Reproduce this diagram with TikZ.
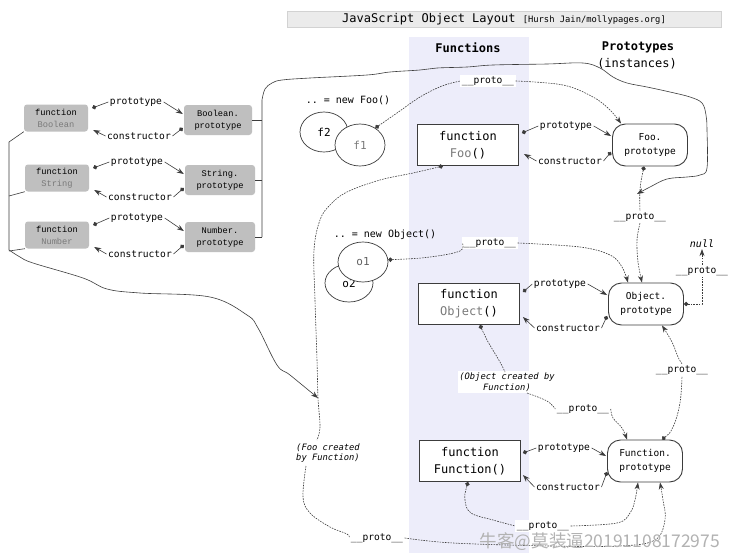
\documentclass[tikz,border=0pt]{standalone}
\usepackage{fontspec}
\setmonofont{DejaVu Sans Mono}
\newfontfamily\boxfont{Liberation Mono}
\newfontfamily\cjkfont{Noto Sans CJK SC}
\usetikzlibrary{arrows.meta,calc,shapes.geometric}
\definecolor{lav}{HTML}{EDEDFA}
\definecolor{boxgray}{HTML}{BFBFBF}
\definecolor{txtgray}{HTML}{7A7A7A}
\definecolor{linegray}{HTML}{3C3C3C}
\tikzset{
  lbl/.style={font=\ttfamily\fontsize{9.6}{10}\selectfont, inner sep=1.5pt, fill=white},
  itl/.style={font=\ttfamily\itshape\fontsize{8.8}{10.5}\selectfont, inner sep=1.5pt, fill=white},
  gbox/.style={rounded corners=3pt, fill=boxgray, inner sep=0pt, minimum width=64pt, minimum height=27pt, align=center, font=\boxfont\fontsize{8.7}{12}\selectfont},
  mbox/.style={draw=linegray, line width=0.9pt, fill=white, inner sep=0pt, minimum width=101pt, minimum height=41pt, align=center, font=\ttfamily\fontsize{12}{17}\selectfont},
  pbox/.style={draw=linegray, line width=0.9pt, fill=white, rounded corners=13pt, inner sep=0pt, minimum width=75pt, minimum height=42pt, align=center, font=\ttfamily\fontsize{9.5}{14}\selectfont},
  ell/.style={ellipse, draw=linegray, line width=0.7pt, fill=white, inner sep=0pt, font=\ttfamily\fontsize{11}{11}\selectfont},
  hdr/.style={font=\ttfamily\bfseries\fontsize{12}{12}\selectfont, inner sep=1pt},
  sol/.style={draw=linegray, line width=0.6pt},
  dsh/.style={draw=linegray, line width=0.6pt, dash pattern=on 1.6pt off 1.1pt},
  arr/.style={line width=0.6pt, draw=linegray},
  dotst/.style={{Circle[length=4.4pt]}-},
  tipst/.style={-{Stealth[length=7pt,width=5pt]}},
}
\begin{document}
\begin{tikzpicture}[x=1pt,y=-1pt]
\useasboundingbox (0,0) rectangle (732,560);
\fill[white] (0,0) rectangle (732,560);
% functions column
\node[fill=lav, minimum width=120pt, minimum height=516pt, inner sep=0pt] (colFun) at (469,295) {};
% title
\node[fill=gray!16, draw=gray!35, minimum width=434pt, minimum height=16pt, inner sep=0pt,
      font=\ttfamily\fontsize{12}{12}\selectfont] (title) at (504,19)
  {JavaScript Object Layout {\fontsize{8.8}{9}\selectfont[Hursh Jain/mollypages.org]}};
\node[hdr] (hFun) at (468,48) {Functions};
\node[hdr] (hProto) at (638,47) {Prototypes};
\node[font=\ttfamily\fontsize{12}{12}\selectfont, inner sep=1pt] (hInst) at (637,64) {(instances)};

% left gray boxes
\node[gbox] (fBool) at (56,118) {function\\\textcolor{txtgray}{Boolean}};
\node[gbox, minimum width=68pt, minimum height=30pt] (pBool) at (218,120) {Boolean.\\prototype};
\node[gbox] (fStr) at (57,178) {function\\\textcolor{txtgray}{String}};
\node[gbox, minimum width=70pt, minimum height=30pt] (pStr) at (220,180) {String.\\prototype};
\node[gbox] (fNum) at (57,235) {function\\\textcolor{txtgray}{Number}};
\node[gbox, minimum width=70pt, minimum height=30pt] (pNum) at (220,237) {Number.\\prototype};

\node[lbl] (lpB) at (136,102) {prototype};
\node[lbl] (lcB) at (139,136) {constructor};
\node[lbl] (lpS) at (137,162) {prototype};
\node[lbl] (lcS) at (140,197) {constructor};
\node[lbl] (lpN) at (137,218) {prototype};
\node[lbl] (lcN) at (140,254) {constructor};

\foreach \f/\p/\lp/\lc in {fBool/pBool/lpB/lcB, fStr/pStr/lpS/lcS, fNum/pNum/lpN/lcN}{
  \draw[arr, dotst] ($(\f.east)+(4,-10)$) -- (\lp.west);
  \draw[arr, tipst] (\lp.east) -- ($(\p.west)+(-1,-6)$);
  \draw[arr, dotst] ($(\p.west)+(-1,8)$) -- (\lc.east);
  \draw[arr, tipst] (\lc.west) -- ($(\f.east)+(5,12)$);
}

% right bracket and big solid curve
\coordinate (mergeA) at (637,194);
\draw[sol] (pBool.east) -- (262,120);
\draw[sol] (pStr.east) -- (262,180);
\draw[sol] (pNum.east) -- (262,237);
\draw[sol, tipst] (262,237) -- (262,100) plot[smooth, tension=0.6] coordinates {(262,100) (265,89) (272,83) (282,80) (310,78) (367,75) (390,72) (420,70) (437,68) (467,67) (493,65) (547,64) (583,63) (600,68) (613,77) (627,83) (647,87) (670,92) (690,97) (702,103) (706,115) (707,130) (707,168) (700,175) (687,177) (667,179) (650,187) (mergeA)};

% left bracket and curve
\coordinate (mergeB) at (318,398);
\draw[sol] (fBool.south west) -- (9,142) -- (9,250);
\draw[sol] (fStr.south west) -- (9,196);
\draw[sol] (fNum.south west) -- (9,251);
\draw[sol, tipst] plot[smooth, tension=0.6] coordinates {(9,250) (20,257) (33,263) (83,278) (107,289) (140,293) (210,297) (247,315) (258,328) (277,365) (290,375) (mergeB)};

% instances
\node[font=\ttfamily\fontsize{10}{10}\selectfont, inner sep=1pt] (newFoo) at (348,100) {.. = new Foo()};
\node[ell, minimum width=48pt, minimum height=40pt] (f2) at (324,132) {f2};
\node[ell, minimum width=50pt, minimum height=42pt, text=txtgray] (f1) at (360,145) {f1};
\node[font=\ttfamily\fontsize{10}{10}\selectfont, inner sep=1pt] (newObj) at (385,235) {.. = new Object()};
\node[ell, minimum width=48pt, minimum height=38pt] (o2) at (349,283) {o2};
\node[ell, minimum width=50pt, minimum height=40pt, text=txtgray!80!black] (o1) at (363,262) {o1};

% function boxes
\node[mbox] (fFoo) at (468,145) {function\\\textcolor{txtgray}{Foo}()};
\node[mbox] (fObj) at (469,304) {function\\\textcolor{txtgray}{Object}()};
\node[mbox] (fFun) at (470,461) {function\\Function()};
% prototype boxes
\node[pbox] (pFoo) at (650,145) {Foo.\\prototype};
\node[pbox] (pObj) at (646,304) {Object.\\prototype};
\node[pbox] (pFun) at (645,461) {Function.\\prototype};

\node[lbl] (lpFoo) at (566,126) {prototype};
\node[lbl] (lcFoo) at (570,161) {constructor};
\node[lbl] (lpObj) at (560,284) {prototype};
\node[lbl] (lcObj) at (568,328) {constructor};
\node[lbl] (lpFun) at (564,448) {prototype};
\node[lbl] (lcFun) at (568,487) {constructor};

\draw[arr, dotst] ($(fFoo.east)+(3,-12)$) -- (lpFoo.west);
\draw[arr, tipst] (lpFoo.east) -- ($(pFoo.west)+(-1,-9)$);
\draw[arr, dotst] ($(pFoo.west)+(-1,7)$) -- (lcFoo.east);
\draw[arr, tipst] (lcFoo.west) -- ($(fFoo.east)+(5,9)$);

\draw[arr, dotst] ($(fObj.east)+(3,-12)$) -- (lpObj.west);
\draw[arr, tipst] (lpObj.east) -- ($(pObj.west)+(-1,-9)$);
\draw[arr, dotst] ($(pObj.west)+(-1,12)$) -- (lcObj.east);
\draw[arr, tipst] (lcObj.west) -- ($(fObj.east)+(3,13)$);

\draw[arr, dotst] ($(fFun.east)+(2,-8)$) -- (lpFun.west);
\draw[arr, tipst] (lpFun.east) -- ($(pFun.west)+(-1,-5)$);
\draw[arr, dotst] ($(pFun.west)+(0,11)$) -- (lcFun.east);
\draw[arr, tipst] (lcFun.west) -- ($(fFun.east)+(2,14)$);

% __proto__ labels and others
\node[lbl] (pr1) at (488,81) {\_\_proto\_\_};
\node[lbl] (pr2) at (640,217) {\_\_proto\_\_};
\node[lbl] (pr3) at (490,243) {\_\_proto\_\_};
\node[lbl] (pr4) at (702,271) {\_\_proto\_\_};
\node[lbl] (pr5) at (682,370) {\_\_proto\_\_};
\node[lbl] (pr6) at (583,409) {\_\_proto\_\_};
\node[lbl] (pr7) at (543,526) {\_\_proto\_\_};
\node[lbl] (pr8) at (377,538) {\_\_proto\_\_};
\node[font=\ttfamily\itshape\fontsize{10}{10}\selectfont, inner sep=1pt] (nul) at (702,244) {null};
\node[itl, align=center] (obCr) at (507,382) {(Object created by\\Function)};
\node[itl, align=left, fill=none] (fooCr) at (328,453) {(Foo created\\by Function)};

% dashed __proto__ connectors
\draw[dsh, dotst] plot[smooth, tension=0.6] coordinates {(f1.48) (397,113) (420,97) (442,86) (pr1.west)};
\draw[dsh, tipst] plot[smooth, tension=0.6] coordinates {(pr1.east) (563,85) (593,97) (610,110) ($(pFoo.north west)+(9,0)$)};

\draw[dsh, dotst] plot[smooth, tension=0.6] coordinates {($(pFoo.south)+(-6,0)$) (640,190) (pr2.north)};
\draw[dsh, tipst] plot[smooth, tension=0.6] coordinates {(pr2.south) (637,240) (638,262) ($(pObj.north)+(-4,0)$)};

\draw[dsh, dotst] plot[smooth, tension=0.6] coordinates {(o1.5) (430,257) (460,251) (pr3.west)};
\draw[dsh, tipst] plot[smooth, tension=0.6] coordinates {(pr3.east) (580,247) (610,255) (622,267) ($(pObj.north)+(-18,0)$)};

\draw[dsh, dotst] (pObj.east) -| (pr4.south);
\draw[dsh, tipst] (pr4.north) -- (nul.south);

\draw[dsh, dotst] plot[smooth, tension=0.6] coordinates {($(pFun.north)+(17,0)$) (673,427) (680,403) (pr5.south)};
\draw[dsh, tipst] plot[smooth, tension=0.6] coordinates {(pr5.north) (678,357) (672,342) ($(pObj.south)+(16,0)$)};

\draw[dsh, dotst] plot[smooth, tension=0.6] coordinates {($(fObj.south)+(11,0)$) (487,340) (500,362) (505,372)};
\draw[dsh] plot[smooth, tension=0.6] coordinates {(527,393) (547,401) (pr6.west)};
\draw[dsh, tipst] plot[smooth, tension=0.6] coordinates {(pr6.east) (613,418) (622,428) ($(pFun.north)+(-18,0)$)};

\draw[dsh, dotst] plot[smooth, tension=0.6] coordinates {($(fFun.south)+(-2,0)$) (465,500) (471,513) (493,520) (pr7.west)};
\draw[dsh, tipst] plot[smooth, tension=0.6] coordinates {(pr7.east) (617,523) (630,513) (635,500) ($(pFun.south)+(-7,0)$)};

\draw[dsh, dotst] plot[smooth, tension=0.6] coordinates {($(fFoo.south)+(-25,0)$) (413,173) (380,180) (347,192) (330,205) (320,220) (314,250) (315,300) (317,360) (mergeB) (320,427) (317,440)};
\draw[dsh] plot[smooth, tension=0.6] coordinates {(306,466) (303,497) (310,513) (330,527) (347,534) (pr8.west)};
\draw[dsh, tipst] plot[smooth, tension=0.6] coordinates {(pr8.east) (453,543) (550,546) (620,546) (655,540) (665,520) (663,500) ($(pFun.south)+(15,0)$)};

% watermark
\node[font=\cjkfont\fontsize{17.5}{17.5}\selectfont, text=gray!60, inner sep=0pt] (wm) at (600,542) {牛客@莫装逼20191108172975};
\end{tikzpicture}
\end{document}
